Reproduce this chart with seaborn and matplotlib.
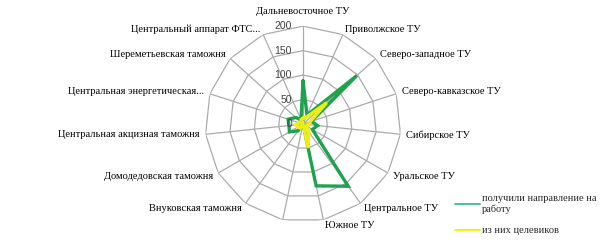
import numpy as np
import pandas as pd
import matplotlib
matplotlib.use("Agg")
import matplotlib.pyplot as plt
import seaborn as sns
from matplotlib.transforms import offset_copy
from matplotlib.lines import Line2D

categories = [
    "Дальневосточное ТУ", "Приволжское ТУ", "Северо-западное ТУ",
    "Северо-кавказское ТУ", "Сибирское ТУ", "Уральское ТУ",
    "Центральное ТУ", "Южное ТУ", "", "Внуковская таможня",
    "Домодедовская таможня", "Центральная акцизная таможня",
    "Центральная энергетическая...", "Шереметьевская таможня",
    "Центральный аппарат ФТС...",
]
received = [88, 20, 148, 18, 30, 22, 157, 129, 0, 17, 32, 29, 32, 20, 10]
targeted = [12, 15, 65, 15, 12, 8, 20, 50, 0, 10, 12, 15, 8, 5, 10]
r_ticks = [0, 50, 100, 150, 200]
series_names = ["получили направление на\nработу", "из них целевиков"]

sns.set_theme(style="white")
plt.rcParams["font.family"] = ["Liberation Serif", "DejaVu Serif"]

n = len(categories)
theta = np.arange(n) * 2 * np.pi / n
theta_c = np.append(theta, 2 * np.pi)

fig = plt.figure(figsize=(6, 2.48), dpi=100)
ax = fig.add_axes([0.3417, 0.1048, 0.3267, 0.790], projection="polar")
ax.set_theta_zero_location("N")
ax.set_theta_direction(-1)
ax.grid(False)
ax.spines["polar"].set_visible(False)
ax.patch.set_alpha(0)

gridc = "#ABABAB"
for r in r_ticks[1:]:
    ax.plot(theta_c, [r] * (n + 1), color=gridc, lw=0.9, zorder=1)
for t in theta:
    ax.plot([t, t], [0, r_ticks[-1]], color=gridc, lw=0.9, zorder=1)

df = pd.DataFrame({
    "theta": np.concatenate([theta_c, theta_c]),
    "value": received + received[:1] + targeted + targeted[:1],
    "series": ["received"] * (n + 1) + ["targeted"] * (n + 1),
})
sns.lineplot(data=df[df.series == "received"], x="theta", y="value", sort=False,
             estimator=None, ax=ax, color="#1FA24E", lw=2.4, legend=False, zorder=3,
             solid_joinstyle="miter")
sns.lineplot(data=df[df.series == "targeted"], x="theta", y="value", sort=False,
             estimator=None, ax=ax, color="#EEEE12", lw=2.4, legend=False, zorder=4,
             solid_joinstyle="miter")

ax.set_ylim(0, r_ticks[-1])
ax.set_xticks([])
ax.set_yticks([])
ax.set_xlabel("")
ax.set_ylabel("")

for r in r_ticks:
    ax.text(0, r, str(r), transform=offset_copy(ax.transData, fig=fig, x=-11, y=0, units="dots"),
            ha="right", va="center", fontsize=7.5, color="#404040",
            family=["Liberation Sans", "DejaVu Sans"], zorder=5)

for t, lab in zip(theta, categories):
    s, c = np.sin(t), np.cos(t)
    if abs(s) < 0.05:
        ha = "center"
    elif s > 0:
        ha = "left"
    else:
        ha = "right"
    dx, dy = 6 * s, 6 * c
    va = "center"
    if c > 0.99:
        dy, va = 10, "bottom"
    ax.text(t, r_ticks[-1], lab,
            transform=offset_copy(ax.transData, fig=fig, x=dx, y=dy, units="dots"),
            ha=ha, va=va, fontsize=7.5, color="black")

handles = [Line2D([], [], color="#3DB5A5", lw=1.3), Line2D([], [], color="#F0F000", lw=1.3)]
fig.legend(handles, series_names, loc="upper left", bbox_to_anchor=(455 / 600, 1 - 194 / 248),
           frameon=False, fontsize=7.5, handlelength=2.4, handletextpad=0.15,
           labelspacing=1.15, borderpad=0, borderaxespad=0)

fig.savefig("out.png", dpi=100)
